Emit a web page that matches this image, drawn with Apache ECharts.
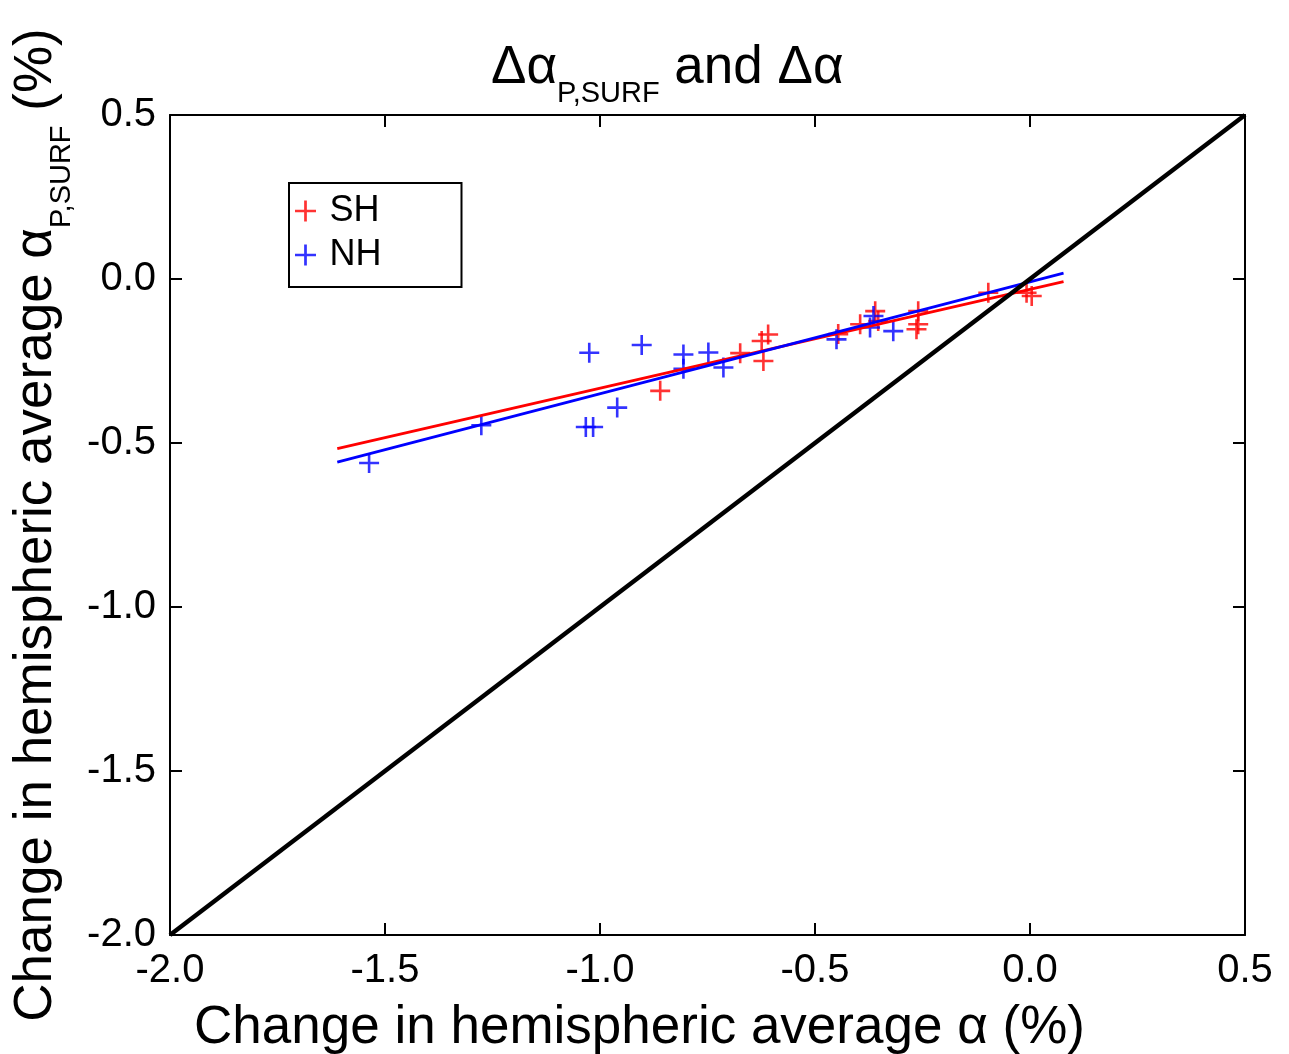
<!DOCTYPE html>
<html>
<head>
<meta charset="utf-8">
<script src="https://cdn.jsdelivr.net/npm/echarts@6/dist/echarts.min.js"></script>
<style>html,body{margin:0;padding:0;background:#fff}#c{width:1289px;height:1054px}</style>
</head>
<body>
<div id="c"></div>
<script>
// ---- data ----
const shX = [-0.860, -0.674, -0.609, -0.624, -0.620, -0.446, -0.395, -0.360, -0.353, -0.260, -0.260, -0.264, -0.097, -0.008, 0.004];
const shY = [-0.341, -0.226, -0.169, -0.189, -0.250, -0.168, -0.138, -0.098, -0.128, -0.098, -0.138, -0.153, -0.042, -0.042, -0.052];
const nhX = [-1.537, -1.276, -1.033, -1.016, -1.025, -0.960, -0.903, -0.806, -0.806, -0.748, -0.713, -0.450, -0.364, -0.372, -0.318];
const nhY = [-0.561, -0.446, -0.451, -0.451, -0.225, -0.392, -0.201, -0.230, -0.274, -0.224, -0.270, -0.184, -0.113, -0.148, -0.159];
const shFitX = [-1.611, 0.078];
const shFitY = [-0.517, -0.008];
const nhFitX = [-1.611, 0.078];
const nhFitY = [-0.558, 0.018];
const diagX = [-2.0, 0.5];
const diagY = [-2.0, 0.5];
const xTicks = [-2.0, -1.5, -1.0, -0.5, 0.0, 0.5];
const yTicks = [-2.0, -1.5, -1.0, -0.5, 0.0, 0.5];

const zip = (a, b) => a.map((v, i) => [v, b[i]]);
const FONT = "'Liberation Sans', Arial, Helvetica, sans-serif";
const PLUS = 'path://M-0.13,-1 L0.13,-1 L0.13,-0.13 L1,-0.13 L1,0.13 L0.13,0.13 L0.13,1 L-0.13,1 L-0.13,0.13 L-1,0.13 L-1,-0.13 L-0.13,-0.13 Z';

const richMain = { fontSize: 53, fontFamily: FONT, fontWeight: 'normal', color: '#000', lineHeight: 80 };
const richSub = { fontSize: 29, fontFamily: FONT, fontWeight: 'normal', color: '#000', lineHeight: 30, verticalAlign: 'bottom' };

const chart = echarts.init(document.getElementById('c'));
const axisCommon = {
  type: 'value', min: -2.0, max: 0.5, interval: 0.5,
  axisLine: { show: true, onZero: false, lineStyle: { color: '#000', width: 2 } },
  axisTick: { show: true, inside: true, length: 12, lineStyle: { color: '#000', width: 2 } },
  splitLine: { show: false }
};
chart.setOption({
  animation: false,
  backgroundColor: '#fff',
  title: {
    text: '{a|Δα}{s|P,SURF}{a| and Δα}',
    left: 486, top: 23,
    textStyle: { fontWeight: 'normal', rich: { a: richMain, s: richSub } }
  },
  legend: {
    data: ['SH', 'NH'], orient: 'vertical', left: 289, top: 183,
    padding: [10, 80, 14, 6], itemWidth: 28, itemHeight: 21, itemGap: 8,
    borderColor: '#000', borderWidth: 2, icon: PLUS,
    textStyle: { fontSize: 36, fontFamily: FONT, color: '#000', lineHeight: 36, padding: [0, 0, 0, 5] }
  },
  grid: { left: 170, right: 44, top: 115, bottom: 119, containLabel: false, outerBoundsMode: 'none' },
  xAxis: [
    Object.assign({}, axisCommon, {
      position: 'bottom',
      axisLabel: { fontSize: 40, fontFamily: FONT, color: '#000', margin: 16, formatter: v => v.toFixed(1) },
      name: '{a|Change in hemispheric average α (%)}', nameLocation: 'middle', nameGap: 65,
      nameTextStyle: { padding: [0, 136, 0, 0], rich: { a: Object.assign({}, richMain, { fontSize: 53, lineHeight: 56 }) } }
    }),
    Object.assign({}, axisCommon, { position: 'top', axisLabel: { show: false } })
  ],
  yAxis: [
    Object.assign({}, axisCommon, {
      position: 'left',
      axisLabel: { fontSize: 40, fontFamily: FONT, color: '#000', margin: 14, formatter: v => v.toFixed(1) },
      name: '{a|Change in hemispheric average α}{s|P,SURF}{a| (%)}', nameLocation: 'middle', nameGap: 86, nameRotate: 90,
      nameTextStyle: { rich: { a: richMain, s: richSub } }
    }),
    Object.assign({}, axisCommon, { position: 'right', axisLabel: { show: false } })
  ],
  series: [
    { name: 'SH', type: 'scatter', data: zip(shX, shY), symbol: PLUS, symbolSize: 20, itemStyle: { color: '#ff0000' }, z: 3 },
    { name: 'NH', type: 'scatter', data: zip(nhX, nhY), symbol: PLUS, symbolSize: 20, itemStyle: { color: '#0000ff' }, z: 3 },
    { name: 'SH fit', type: 'line', data: zip(shFitX, shFitY), showSymbol: false, lineStyle: { color: '#ff0000', width: 2.8 }, z: 4 },
    { name: 'NH fit', type: 'line', data: zip(nhFitX, nhFitY), showSymbol: false, lineStyle: { color: '#0000ff', width: 2.8 }, z: 4 },
    { name: '1:1', type: 'line', data: zip(diagX, diagY), showSymbol: false, lineStyle: { color: '#000', width: 4.5 }, z: 5 }
  ]
});
</script>
</body>
</html>
